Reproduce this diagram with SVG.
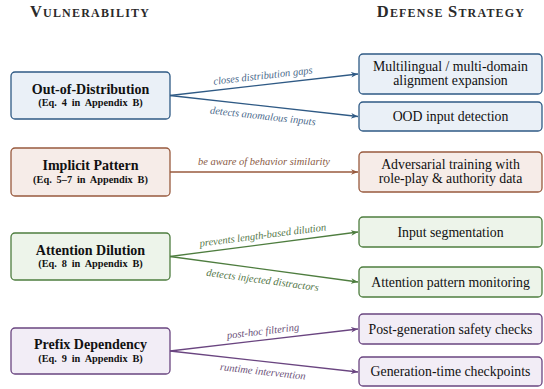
<svg xmlns="http://www.w3.org/2000/svg" width="544" height="389" viewBox="0 0 544 389" font-family="Liberation Serif, serif">
<defs>
<style>
text{font-family:'Liberation Serif','Times New Roman',serif}
.hdr{font-weight:bold;fill:#2a2a2a;text-anchor:middle;letter-spacing:1.2px}
.box{stroke-width:1.3}
.t{font-weight:bold;font-size:14px;fill:#111;text-anchor:middle}
.s{font-weight:bold;font-size:10.3px;fill:#111;text-anchor:middle;word-spacing:2.3px}
.r{font-size:13.8px;fill:#111;text-anchor:middle}
.lbl{font-style:italic;font-size:10.5px;text-anchor:middle}
.blue{fill:#eaf0f7;stroke:#2f5a85}
.brown{fill:#f6ece8;stroke:#985a3e}
.green{fill:#edf4ea;stroke:#4e7d3f}
.purple{fill:#f2edf6;stroke:#6a4580}
.lb{stroke:#2f5a85}.lr{stroke:#985a3e}.lg{stroke:#4e7d3f}.lp{stroke:#6a4580}
#edges path{fill:none;stroke-width:1.3}
</style>
<marker id="mb" viewBox="0 0 10 10" refX="10" refY="5" markerWidth="7" markerHeight="7" markerUnits="userSpaceOnUse" orient="auto"><path d="M0,1 L10,5 L0,9 L3,5 Z" fill="#2f5a85"/></marker>
<marker id="mr" viewBox="0 0 10 10" refX="10" refY="5" markerWidth="7" markerHeight="7" markerUnits="userSpaceOnUse" orient="auto"><path d="M0,1 L10,5 L0,9 L3,5 Z" fill="#985a3e"/></marker>
<marker id="mg" viewBox="0 0 10 10" refX="10" refY="5" markerWidth="7" markerHeight="7" markerUnits="userSpaceOnUse" orient="auto"><path d="M0,1 L10,5 L0,9 L3,5 Z" fill="#4e7d3f"/></marker>
<marker id="mp" viewBox="0 0 10 10" refX="10" refY="5" markerWidth="7" markerHeight="7" markerUnits="userSpaceOnUse" orient="auto"><path d="M0,1 L10,5 L0,9 L3,5 Z" fill="#6a4580"/></marker>
</defs>
<rect width="544" height="389" fill="#fff"/>

<text class="hdr" x="90" y="17"><tspan font-size="16.5">V</tspan><tspan font-size="12">ULNERABILITY</tspan></text>
<text class="hdr" x="451" y="17"><tspan font-size="16.5">D</tspan><tspan font-size="12">EFENSE </tspan><tspan font-size="16.5">S</tspan><tspan font-size="12">TRATEGY</tspan></text>

<g id="edges">
<path class="lb" d="M170,95.5 L358,74" marker-end="url(#mb)"/>
<path class="lb" d="M170,95.5 L358,116.5" marker-end="url(#mb)"/>
<path class="lr" d="M170,172 L358,172" marker-end="url(#mr)"/>
<path class="lg" d="M170,256.5 L358,232" marker-end="url(#mg)"/>
<path class="lg" d="M170,256.5 L358,282" marker-end="url(#mg)"/>
<path class="lp" d="M170,351 L358,329" marker-end="url(#mp)"/>
<path class="lp" d="M170,351 L358,372" marker-end="url(#mp)"/>
<g transform="translate(264,85) rotate(-6.5)"><text class="lbl" y="-6" fill="#4b6a8c">closes distribution gaps</text></g>
<g transform="translate(264,106) rotate(6.4)"><text class="lbl" y="13.5" fill="#4b6a8c">detects anomalous inputs</text></g>
<text class="lbl" x="264" y="165" fill="#8a5a45">be aware of behavior similarity</text>
<g transform="translate(264,244.5) rotate(-7.4)"><text class="lbl" y="-6" fill="#55784a">prevents length-based dilution</text></g>
<g transform="translate(264,269.5) rotate(7.7)"><text class="lbl" y="14" fill="#55784a">detects injected distractors</text></g>
<g transform="translate(264,340) rotate(-6.7)"><text class="lbl" y="-5.5" fill="#6a5078">post-hoc filtering</text></g>
<g transform="translate(264,361.5) rotate(6.4)"><text class="lbl" y="13.5" fill="#6a5078">runtime intervention</text></g>
</g>

<g id="v-ood"><rect class="box blue" x="11" y="72" width="159" height="47" rx="4"/><text class="t" x="90.5" y="93.5">Out-of-Distribution</text><text class="s" x="90.5" y="106">(Eq. 4 in Appendix B)</text></g>
<g id="v-implicit"><rect class="box brown" x="11" y="148" width="159" height="48" rx="4"/><text class="t" x="90.5" y="170">Implicit Pattern</text><text class="s" x="90.5" y="182.5">(Eq. 5–7 in Appendix B)</text></g>
<g id="v-attention"><rect class="box green" x="11" y="233" width="159" height="47" rx="4"/><text class="t" x="90.5" y="254.5">Attention Dilution</text><text class="s" x="90.5" y="267">(Eq. 8 in Appendix B)</text></g>
<g id="v-prefix"><rect class="box purple" x="11" y="328" width="159" height="46" rx="4"/><text class="t" x="90.5" y="349">Prefix Dependency</text><text class="s" x="90.5" y="361.5">(Eq. 9 in Appendix B)</text></g>

<g id="d-multi"><rect class="box blue" x="359" y="54" width="183" height="40" rx="4"/><text class="r" x="450.5" y="70.5">Multilingual / multi-domain</text><text class="r" x="450.5" y="84.5">alignment expansion</text></g>
<g id="d-ood"><rect class="box blue" x="359" y="102" width="183" height="29" rx="4"/><text class="r" x="450.5" y="121">OOD input detection</text></g>
<g id="d-adv"><rect class="box brown" x="359" y="152" width="183" height="40" rx="4"/><text class="r" x="450.5" y="168.5">Adversarial training with</text><text class="r" x="450.5" y="182.5">role-play &amp; authority data</text></g>
<g id="d-seg"><rect class="box green" x="359" y="217" width="183" height="30" rx="4"/><text class="r" x="450.5" y="236.5">Input segmentation</text></g>
<g id="d-attn"><rect class="box green" x="359" y="267" width="183" height="30" rx="4"/><text class="r" x="450.5" y="286.5">Attention pattern monitoring</text></g>
<g id="d-post"><rect class="box purple" x="359" y="314" width="183" height="30" rx="4"/><text class="r" x="450.5" y="333.5">Post-generation safety checks</text></g>
<g id="d-gen"><rect class="box purple" x="359" y="357" width="183" height="29" rx="4"/><text class="r" x="450.5" y="376">Generation-time checkpoints</text></g>
</svg>
